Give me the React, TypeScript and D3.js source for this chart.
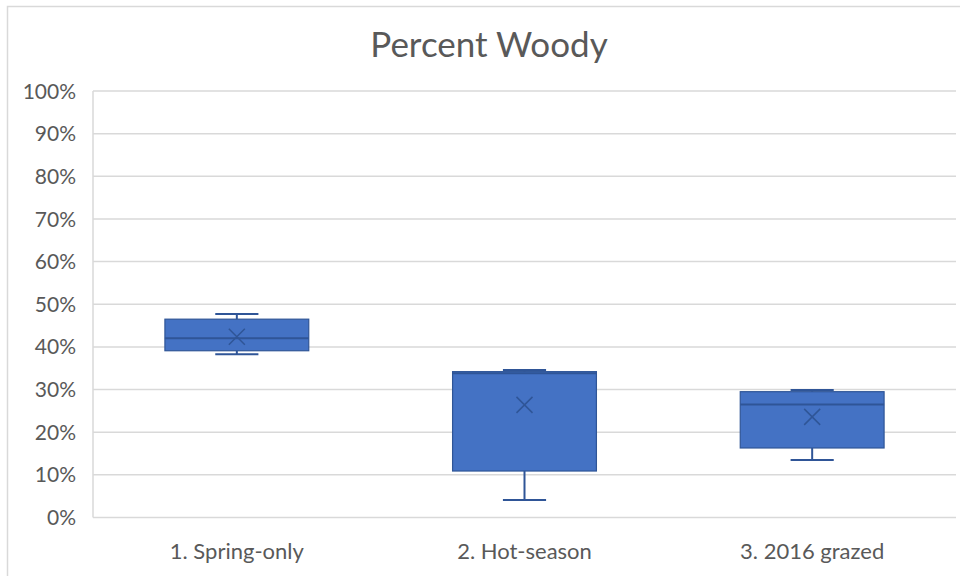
import React from "react";
import * as d3 from "d3";

// Box-plot statistics per grazing treatment (fractions of 1)
const categories = ["1. Spring-only", "2. Hot-season", "3. 2016 grazed"];
const whiskerLow = [0.383, 0.041, 0.135];
const quartile1 = [0.391, 0.109, 0.163];
const medians = [0.42, 0.338, 0.265];
const quartile3 = [0.465, 0.342, 0.295];
const whiskerHigh = [0.477, 0.346, 0.299];
const means = [0.424, 0.264, 0.236];
const yTicks = [0, 0.1, 0.2, 0.3, 0.4, 0.5, 0.6, 0.7, 0.8, 0.9, 1.0];

const W = 960;
const H = 576;
const plot = { left: 93, right: 956, top: 91, bottom: 517.5 };
const FONT = "Lato, 'Open Sans', sans-serif";
const TEXT = "#595959";
const GRID = "#D9D9D9";
const FILL = "#4472C4";
const EDGE = "#2F5597";

export default function App() {
  const x = d3
    .scaleBand<string>()
    .domain(categories)
    .range([plot.left, plot.right])
    .paddingInner(0.5)
    .paddingOuter(0.25);
  const y = d3.scaleLinear().domain([0, 1]).range([plot.bottom, plot.top]);
  const fmt = d3.format(".0%");
  const capHalf = x.bandwidth() * 0.15;

  return (
    <svg
      width={W}
      height={H}
      style={{ position: "absolute", left: 0, top: 0, background: "#fff" }}
    >
      {/* chart frame */}
      <rect x={7.5} y={6.5} width={1000} height={700} fill="#fff" stroke={GRID} strokeWidth={1.5} />

      <text
        x={489}
        y={57}
        textAnchor="middle"
        fontFamily={FONT}
        fontSize={35}
        fill={TEXT}
      >
        Percent Woody
      </text>

      {/* gridlines and y axis labels */}
      {yTicks.map((t) => (
        <g key={t}>
          <line
            x1={plot.left}
            x2={plot.right}
            y1={y(t)}
            y2={y(t)}
            stroke={GRID}
            strokeWidth={1.5}
          />
          <text
            x={76}
            y={y(t)}
            dy="0.36em"
            textAnchor="end"
            fontFamily={FONT}
            fontSize={21}
            fill={TEXT}
          >
            {fmt(t)}
          </text>
        </g>
      ))}
      <line x1={plot.left} x2={plot.left} y1={plot.top} y2={plot.bottom} stroke={GRID} strokeWidth={1.5} />

      {/* boxes */}
      {categories.map((c, i) => {
        const x0 = x(c)!;
        const cx = x0 + x.bandwidth() / 2;
        const m = 8;
        return (
          <g key={c}>
            <line x1={cx} x2={cx} y1={y(whiskerHigh[i])} y2={y(quartile3[i])} stroke={EDGE} strokeWidth={2} />
            <line x1={cx} x2={cx} y1={y(quartile1[i])} y2={y(whiskerLow[i])} stroke={EDGE} strokeWidth={2} />
            <line x1={cx - capHalf} x2={cx + capHalf} y1={y(whiskerHigh[i])} y2={y(whiskerHigh[i])} stroke={EDGE} strokeWidth={2} />
            <line x1={cx - capHalf} x2={cx + capHalf} y1={y(whiskerLow[i])} y2={y(whiskerLow[i])} stroke={EDGE} strokeWidth={2} />
            <rect
              x={x0}
              y={y(quartile3[i])}
              width={x.bandwidth()}
              height={y(quartile1[i]) - y(quartile3[i])}
              fill={FILL}
              stroke={EDGE}
              strokeWidth={1.2}
            />
            <line x1={x0} x2={x0 + x.bandwidth()} y1={y(medians[i])} y2={y(medians[i])} stroke={EDGE} strokeWidth={2} />
            <path
              d={`M${cx - m},${y(means[i]) - m}L${cx + m},${y(means[i]) + m}M${cx - m},${y(means[i]) + m}L${cx + m},${y(means[i]) - m}`}
              stroke={EDGE}
              strokeWidth={1.5}
              fill="none"
            />
            <text
              x={cx}
              y={559}
              textAnchor="middle"
              fontFamily={FONT}
              fontSize={22}
              fill={TEXT}
            >
              {c}
            </text>
          </g>
        );
      })}
    </svg>
  );
}
